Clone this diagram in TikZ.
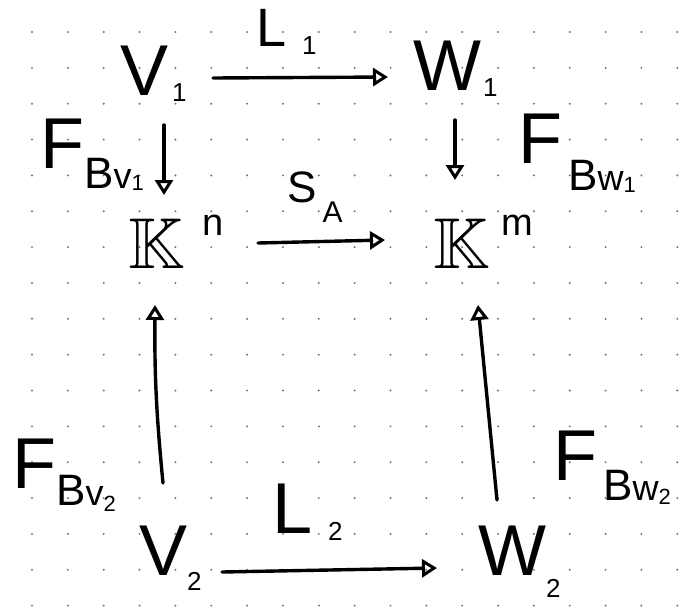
\documentclass[tikz,border=0pt]{standalone}
\usepackage{amssymb}
\usepackage{fontspec}
\setmainfont{Liberation Sans}
\usetikzlibrary{arrows.meta}
\newcommand\myBig{\fontsize{72}{72}\selectfont}
\newcommand\myMid{\fontsize{44}{44}\selectfont}
\newcommand\mySml{\fontsize{36}{36}\selectfont}
\newcommand\mySub{\fontsize{26}{26}\selectfont}
\newcommand\myTiny{\fontsize{22}{22}\selectfont}
\begin{document}
\begin{tikzpicture}[x=1pt,y=-1pt,
  every node/.style={inner sep=0pt, anchor=base west},
  lbl/.style={font=\myBig},
  arr/.style={line width=3.4pt, line cap=round,
    -{Triangle[open,length=15pt,width=18pt,line width=3pt]}}]
\useasboundingbox (0,0) rectangle (690,606);
\fill[white] (0,0) rectangle (690,606);
\foreach \i in {0,...,18}{\foreach \j in {0,...,16}{
  \fill[black!55] (32+35.85*\i, 32+35.85*\j) circle[radius=1.1pt];}}
% objects
\node[lbl] (V1) at (120,95) {V\kern4pt\raisebox{-6pt}{\mySub 1}};
\node[lbl] (W1) at (413,90) {W\kern2pt\raisebox{-6pt}{\mySub 1}};
\node[lbl] (Kn) at (128,268) {$\mathbb{K}$\kern18pt\raisebox{33pt}{\fontsize{38}{38}\selectfont n}};
\node[lbl] (Km) at (433,268) {$\mathbb{K}$\kern12pt\raisebox{33pt}{\fontsize{38}{38}\selectfont m}};
\node[lbl] (V2) at (139,575) {V\raisebox{-15pt}{\mySub 2}};
\node[lbl] (W2) at (478,575) {W\raisebox{-22pt}{\mySub 2}};
% labels
\node (L1) at (256,46) {\fontsize{54}{54}\selectfont L\kern16pt\raisebox{-8pt}{\mySub 1}};
\node[lbl] (L2) at (272,533) {L\kern16pt\raisebox{-7pt}{\mySub 2}};
\node (SA) at (287,202) {\myMid S\kern6pt\raisebox{-20pt}{\fontsize{30}{30}\selectfont A}};
\node (F1) at (40,168) {\myBig F\raisebox{-20pt}{\myMid B\mySml v\raisebox{-2pt}{\myTiny 1}}};
\node (F2) at (518,163) {\myBig F\kern6pt\raisebox{-27pt}{\myMid B\mySml w\raisebox{-2pt}{\myTiny 1}}};
\node (F3) at (12,488) {\myBig F\raisebox{-17pt}{\myMid B\mySml v\raisebox{-6pt}{\myTiny 2}}};
\node (F4) at (553,480) {\myBig F\kern6pt\raisebox{-20pt}{\myMid B\mySml w\raisebox{-4pt}{\myTiny 2}}};
% arrows
\draw[arr] ([shift={(93,-17)}]V1.base west) -- ([shift={(-25,-13)}]W1.base west);
\draw[arr] ([shift={(44,30)}]V1.base west) -- ([shift={(36,-73)}]Kn.base west);
\draw[arr] ([shift={(42,30)}]W1.base west) -- ([shift={(22,-88)}]Km.base west);
\draw[arr] ([shift={(130,-25)}]Kn.base west) -- ([shift={(-48,-28)}]Km.base west);
\draw[arr] ([shift={(24,-92)}]V2.base west) to[bend left=3] ([shift={(27,37)}]Kn.base west);
\draw[arr] ([shift={(19,-75)}]W2.base west) -- ([shift={(45,37)}]Km.base west);
\draw[arr] ([shift={(83,-3)}]V2.base west) -- ([shift={(-41,-7)}]W2.base west);
\end{tikzpicture}
\end{document}
